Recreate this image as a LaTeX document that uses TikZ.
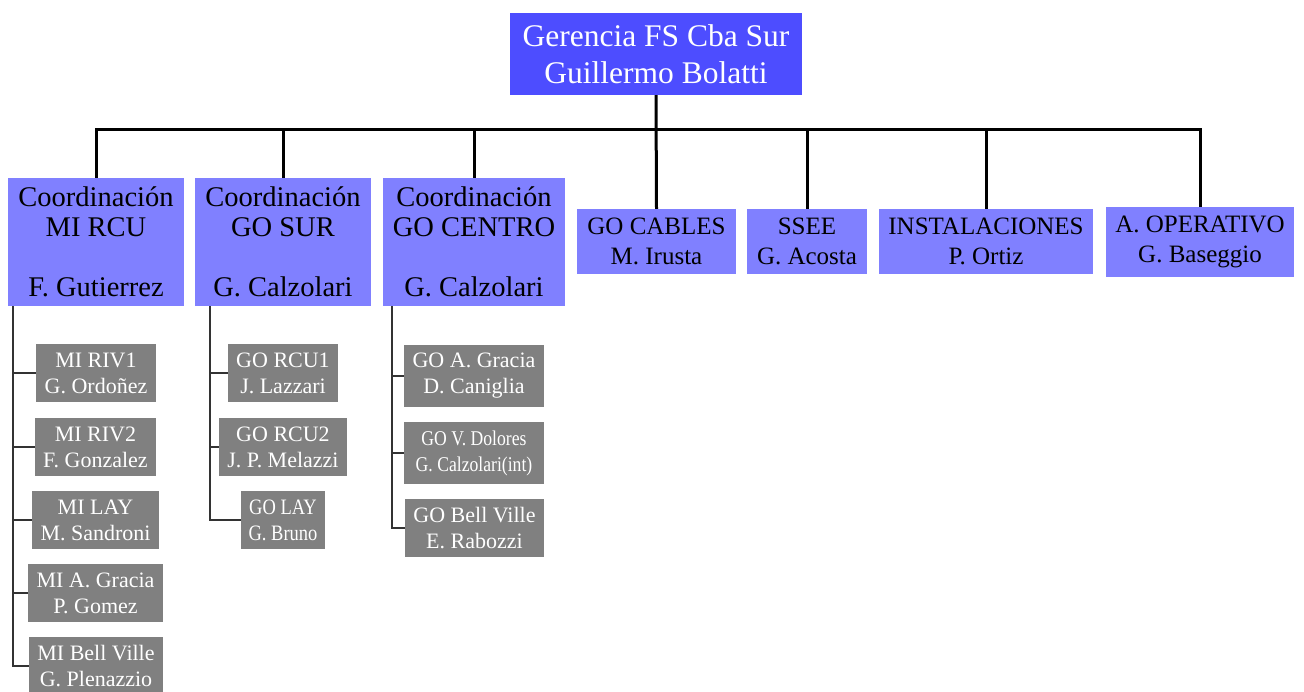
\documentclass[tikz,border=0pt]{standalone}
\usepackage{fontspec}
\setmainfont{Liberation Serif}
\newfontfamily\orgfont{Liberation Serif}
\newfontfamily\narrowfont[FakeStretch=0.84]{Liberation Serif}
\usetikzlibrary{positioning}
\definecolor{topblue}{HTML}{4D4DFF}
\definecolor{lightblue}{HTML}{8080FF}
\definecolor{unitgray}{HTML}{808080}

\begin{document}
\begin{tikzpicture}[x=1pt, y=-1pt,
  boss/.style={fill=topblue, text=white, align=center, inner sep=0pt,
    font=\orgfont\fontsize{31.5}{37}\selectfont},
  coord/.style={fill=lightblue, align=center, inner sep=0pt,
    minimum height=128pt, font=\orgfont\fontsize{28.5}{30}\selectfont},
  area/.style={fill=lightblue, align=center, inner sep=0pt,
    minimum height=65pt, font=\orgfont\fontsize{25}{30}\selectfont},
  unit/.style={fill=unitgray, text=white, align=center, inner sep=0pt,
    minimum height=58pt, font=\orgfont\fontsize{22}{26}\selectfont},
  bus/.style={line width=3pt},
  link/.style={line width=1.5pt, black!80}]
  \useasboundingbox (0,0) rectangle (1304,691);

  % Gerencia
  \node[boss, minimum width=292pt, minimum height=82pt] (top) at (656,54)
    {Gerencia FS Cba Sur\\Guillermo Bolatti};

  % Coordinaciones
  \node[coord, minimum width=176pt] (c1) at (96,242)
    {Coordinación\\MI RCU\\\mbox{}\\F. Gutierrez};
  \node[coord, minimum width=176pt] (c2) at (283,242)
    {Coordinación\\GO SUR\\\mbox{}\\G. Calzolari};
  \node[coord, minimum width=182pt] (c3) at (474,242)
    {Coordinación\\GO CENTRO\\\mbox{}\\G. Calzolari};

  % Areas
  \node[area, minimum width=159pt] (gocab) at (656.5,241.5) {GO CABLES\\M. Irusta};
  \node[area, minimum width=120pt] (ssee) at (807,241.5) {SSEE\\G. Acosta};
  \node[area, minimum width=214pt] (inst) at (986,241.5) {INSTALACIONES\\P. Ortiz};
  \node[area, minimum width=188pt, minimum height=70pt] (aop) at (1200,242)
    {A. OPERATIVO\\G. Baseggio};

  % Bus
  \coordinate (bus) at (656,129);
  \draw[bus] (c1.north) |- (aop.north |- bus) -- (aop.north);
  \draw[bus] (top.south) -- (gocab.north);
  \foreach \n in {c2,c3,ssee,inst}
    \draw[bus] (\n.north) -- (\n.north |- bus);

  % MI RCU units
  \node[unit, minimum width=120pt] (mi1) at (96,373) {MI RIV1\\G. Ordoñez};
  \node[unit, minimum width=121pt] (mi2) at (95.5,447) {MI RIV2\\F. Gonzalez};
  \node[unit, minimum width=127pt] (mi3) at (95.5,520) {MI LAY\\M. Sandroni};
  \node[unit, minimum width=135pt] (mi4) at (95.5,593) {MI A. Gracia\\P. Gomez};
  \node[unit, minimum width=134pt] (mi5) at (96,666) {MI Bell Ville\\G. Plenazzio};
  \coordinate (miS) at ([xshift=5pt]c1.south west);
  \foreach \n in {mi1,mi2,mi3,mi4,mi5}
    \draw[link] (\n.west) -| (miS);

  % GO SUR units
  \node[unit, minimum width=110pt] (go1) at (283,373) {GO RCU1\\J. Lazzari};
  \node[unit, minimum width=128pt] (go2) at (283,447) {GO RCU2\\J. P. Melazzi};
  \node[unit, minimum width=84pt, font=\narrowfont\fontsize{22}{26}\selectfont]
    (go3) at (283,520) {GO LAY\\G. Bruno};
  \coordinate (goS) at ([xshift=15pt]c2.south west);
  \foreach \n in {go1,go2,go3}
    \draw[link] (\n.west) -| (goS);

  % GO CENTRO units
  \node[unit, minimum width=140pt, minimum height=62pt] (gc1) at (474,376)
    {GO A. Gracia\\D. Caniglia};
  \node[unit, minimum width=140pt, minimum height=62pt,
    font=\narrowfont\fontsize{21}{26}\selectfont] (gc2) at (474,453)
    {GO V. Dolores\\G. Calzolari(int)};
  \node[unit, minimum width=139pt] (gc3) at (474.5,528) {GO Bell Ville\\E. Rabozzi};
  \coordinate (gcS) at ([xshift=9pt]c3.south west);
  \foreach \n in {gc1,gc2,gc3}
    \draw[link] (\n.west) -| (gcS);
\end{tikzpicture}
\end{document}
